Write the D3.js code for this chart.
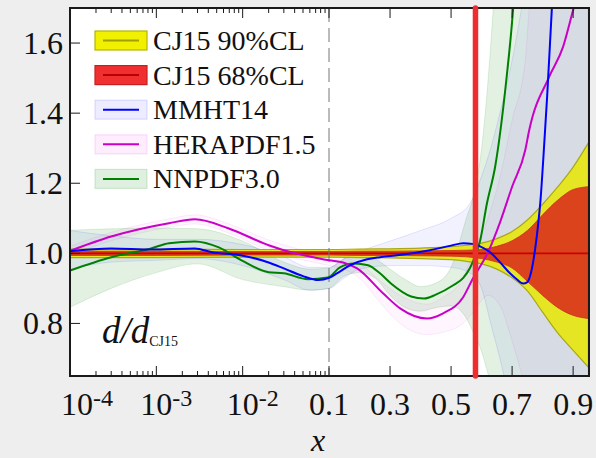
<!DOCTYPE html>
<html>
<head>
<meta charset="utf-8">
<script src="https://cdn.jsdelivr.net/npm/d3@7"></script>
<style>
  html, body { margin: 0; padding: 0; background: #eeeeee; }
  svg { display: block; }
  svg text { font-family: "Liberation Serif", "DejaVu Serif", serif; }
</style>
</head>
<body>
<div id="canvas"></div>
<script>
// -------------------------------------------- Data

// CJ15 bands (ratio to itself)
const cjX = [1e-4, 1e-3, 1e-2, 0.1, 0.2, 0.3, 0.4, 0.5, 0.55, 0.6, 0.65, 0.7, 0.75, 0.8, 0.85, 0.9, 0.95];
const cjMid = [1, 1, 1, 1, 1, 1, 1, 1, 1, 1, 1, 1, 1, 1, 1, 1, 1];
const cj90Hi = [1.012, 1.012, 1.011, 1.011, 1.012, 1.013, 1.015, 1.019, 1.023, 1.029, 1.042, 1.062, 1.095, 1.14, 1.19, 1.246, 1.315];
const cj90Lo = [0.988, 0.988, 0.989, 0.989, 0.988, 0.987, 0.985, 0.982, 0.977, 0.97, 0.955, 0.93, 0.893, 0.832, 0.772, 0.723, 0.675];
const cj68Hi = [1.006, 1.006, 1.005, 1.005, 1.006, 1.006, 1.007, 1.008, 1.009, 1.011, 1.02, 1.036, 1.065, 1.11, 1.152, 1.182, 1.19];
const cj68Lo = [0.994, 0.994, 0.995, 0.995, 0.994, 0.994, 0.993, 0.992, 0.99, 0.985, 0.975, 0.958, 0.92, 0.88, 0.845, 0.823, 0.814];

// MMHT14
const mmhtX = [1e-4, 3e-4, 8.7e-4, 2.8e-3, 4.4e-3, 0.0097, 0.02, 0.03, 0.05, 0.075, 0.1, 0.126, 0.169, 0.225, 0.267, 0.33, 0.431, 0.5, 0.54, 0.57, 0.595, 0.628, 0.66, 0.693, 0.715, 0.736, 0.75, 0.762, 0.775, 0.785, 0.793, 0.803, 0.815, 0.83, 0.84];
const mmhtMid = [1.006, 1.014, 1.011, 1.014, 1.003, 0.994, 0.974, 0.957, 0.935, 0.924, 0.93, 0.943, 0.966, 0.983, 0.989, 0.995, 1.009, 1.022, 1.029, 1.027, 1.02, 1.003, 0.975, 0.943, 0.926, 0.914, 0.918, 0.945, 1.009, 1.08, 1.151, 1.28, 1.45, 1.694, 1.85];
const mmhtBandX = [1e-4, 3e-4, 1e-3, 3e-3, 1e-2, 0.03, 0.06, 0.1, 0.15, 0.2, 0.3, 0.4, 0.5, 0.56, 0.6, 0.63, 0.66, 0.7, 0.735, 0.8, 0.95];
const mmhtHi = [1.065, 1.05, 1.04, 1.04, 1.025, 0.99, 0.96, 0.96, 0.985, 1.005, 1.035, 1.065, 1.1, 1.14, 1.22, 1.3, 1.4, 1.55, 1.72, 2.1, 2.8];
const mmhtLo = [0.955, 0.975, 0.98, 0.985, 0.965, 0.925, 0.895, 0.9, 0.93, 0.955, 0.965, 0.965, 0.96, 0.945, 0.9, 0.8, 0.7, 0.55, 0.45, 0.3, 0.2];

// HERAPDF1.5
const heraX = [1e-4, 3e-4, 1.4e-3, 2.8e-3, 6.9e-3, 0.02, 0.03, 0.0745, 0.1, 0.146, 0.192, 0.277, 0.333, 0.421, 0.474, 0.539, 0.572, 0.621, 0.661, 0.7, 0.743, 0.756, 0.821, 0.867, 0.9, 0.95];
const heraMid = [1.007, 1.048, 1.086, 1.097, 1.071, 1.023, 1.009, 0.986, 0.98, 0.974, 0.957, 0.886, 0.843, 0.814, 0.829, 0.874, 0.929, 1.003, 1.09, 1.19, 1.294, 1.351, 1.503, 1.589, 1.694, 1.85];
const heraHi = [1.02, 1.06, 1.098, 1.11, 1.084, 1.038, 1.024, 1.0, 0.995, 0.99, 0.975, 0.915, 0.88, 0.855, 0.875, 0.93, 1.0, 1.1, 1.22, 1.38, 1.55, 1.7, 2.1, 2.3, 2.5, 2.8];
const heraLo = [0.994, 1.036, 1.074, 1.084, 1.058, 1.008, 0.994, 0.972, 0.965, 0.955, 0.935, 0.85, 0.8, 0.768, 0.775, 0.8, 0.83, 0.88, 0.85, 0.75, 0.62, 0.58, 0.45, 0.4, 0.35, 0.3];

// NNPDF3.0
const nnX = [1e-4, 3e-4, 8.7e-4, 1.4e-3, 2.8e-3, 5.3e-3, 9.7e-3, 0.02, 0.03, 0.057, 0.097, 0.136, 0.182, 0.228, 0.267, 0.303, 0.369, 0.411, 0.45, 0.507, 0.54, 0.562, 0.578, 0.595, 0.617, 0.645, 0.68, 0.703, 0.715];
const nnMid = [0.951, 0.989, 1.014, 1.029, 1.034, 1.017, 0.98, 0.946, 0.943, 0.926, 0.931, 0.96, 0.971, 0.966, 0.943, 0.914, 0.877, 0.871, 0.882, 0.909, 0.93, 0.958, 0.99, 1.035, 1.14, 1.25, 1.486, 1.694, 1.85];
const nnBandX = [1e-4, 3e-4, 1e-3, 3e-3, 1e-2, 0.03, 0.06, 0.1, 0.15, 0.2, 0.25, 0.3, 0.35, 0.4, 0.45, 0.5, 0.55, 0.575, 0.6, 0.62, 0.64, 0.67, 0.7, 0.8, 0.95];
const nnHi = [1.066, 1.07, 1.072, 1.07, 1.035, 0.975, 0.955, 0.958, 0.985, 0.995, 0.985, 0.955, 0.925, 0.905, 0.915, 0.96, 1.1, 1.17, 1.3, 1.48, 1.72, 2.1, 2.5, 3.2, 4];
const nnLo = [0.846, 0.9, 0.945, 0.97, 0.925, 0.905, 0.895, 0.9, 0.935, 0.945, 0.93, 0.88, 0.845, 0.835, 0.845, 0.85, 0.815, 0.77, 0.72, 0.66, 0.6, 0.5, 0.4, 0.2, 0.1];

// CJ15 large-x cut
const xCut = [0.58];

// ticks
const yTicks = [0.8, 1.0, 1.2, 1.4, 1.6];
const logTicks = [1e-4, 1e-3, 1e-2];
const logTickExp = ["-4", "-3", "-2"];
const linTicks = [0.1, 0.3, 0.5, 0.7, 0.9];

// legend
const legendNames = ["CJ15 90%CL", "CJ15 68%CL", "MMHT14", "HERAPDF1.5", "NNPDF3.0"];

// -------------------------------------------- Dimensiones del lienzo
const width = 596;
const height = 458;
const plot = { left: 70, right: 589, top: 8, bottom: 376 };
const xBreak = 0.1;
const serif = "'Liberation Serif', 'DejaVu Serif', serif";

const svg = d3.select("#canvas").append("svg")
  .attr("width", width)
  .attr("height", height)
  .attr("font-family", serif);

svg.append("rect").attr("width", width).attr("height", height).attr("fill", "#eeeeee");
svg.append("rect")
  .attr("x", plot.left).attr("y", plot.top)
  .attr("width", plot.right - plot.left).attr("height", plot.bottom - plot.top)
  .attr("fill", "#ffffff");

// -------------------------------------------- Escalas (log + lineal)
const xLog = d3.scaleLog().domain([1e-4, xBreak]).range([plot.left, 329]);
const xLin = d3.scaleLinear().domain([xBreak, 0.952]).range([329, plot.right]);
const x = (v) => (v < xBreak ? xLog(v) : xLin(v));
const y = d3.scaleLinear().domain([0.65, 1.7]).range([plot.bottom, plot.top]);

svg.append("clipPath").attr("id", "clip")
  .append("rect")
  .attr("x", plot.left).attr("y", plot.top)
  .attr("width", plot.right - plot.left).attr("height", plot.bottom - plot.top);

const g = svg.append("g").attr("clip-path", "url(#clip)");

const zipBand = (xs, lo, hi) => xs.map((v, i) => ({ x: v, lo: lo[i], hi: hi[i] }));
const zipLine = (xs, ys) => xs.map((v, i) => ({ x: v, y: ys[i] }));

const area = d3.area()
  .x((d) => x(d.x))
  .y0((d) => y(d.lo))
  .y1((d) => y(d.hi))
  .curve(d3.curveMonotoneX);

const line = d3.line()
  .x((d) => x(d.x))
  .y((d) => y(d.y))
  .curve(d3.curveMonotoneX);

// ----- bandas PDF
const bands = [
  { data: zipBand(nnBandX, nnLo, nnHi), fill: "rgba(0,128,0,0.11)", stroke: "rgba(0,128,0,0.12)" },
  { data: zipBand(mmhtBandX, mmhtLo, mmhtHi), fill: "rgba(0,0,255,0.05)", stroke: "rgba(0,0,255,0.1)" },
  { data: zipBand(heraX, heraLo, heraHi), fill: "rgba(220,0,220,0.04)", stroke: "rgba(220,0,220,0.08)" }
];

bands.forEach((b) => {
  g.append("path")
    .datum(b.data)
    .attr("d", area)
    .attr("fill", b.fill)
    .attr("stroke", b.stroke)
    .attr("stroke-width", 1);
});

// ----- bandas CJ15
g.append("path")
  .datum(zipBand(cjX, cj90Lo, cj90Hi))
  .attr("d", area)
  .attr("fill", "#e6e614")
  .attr("fill-opacity", 0.92)
  .attr("stroke", "#a8a818")
  .attr("stroke-width", 1.2);

g.append("path")
  .datum(zipBand(cjX, cj68Lo, cj68Hi))
  .attr("d", area)
  .attr("fill", "#da3a1c")
  .attr("fill-opacity", 0.95)
  .attr("stroke", "#c83018")
  .attr("stroke-width", 0.8);

g.append("path")
  .datum(zipLine(cjX, cjMid))
  .attr("d", line)
  .attr("fill", "none")
  .attr("stroke", "#cc0000")
  .attr("stroke-width", 1.6);

// ----- linea x = 0.1
g.append("line")
  .attr("x1", x(xBreak)).attr("x2", x(xBreak))
  .attr("y1", plot.top).attr("y2", plot.bottom)
  .attr("stroke", "#777")
  .attr("stroke-width", 1)
  .attr("stroke-dasharray", "14,6");

// ----- curvas centrales
const curves = [
  { data: zipLine(nnX, nnMid), color: "#008000" },
  { data: zipLine(heraX, heraMid), color: "#c800c8" },
  { data: zipLine(mmhtX, mmhtMid), color: "#0000ff" }
];

curves.forEach((c) => {
  g.append("path")
    .datum(c.data)
    .attr("d", line)
    .attr("fill", "none")
    .attr("stroke", c.color)
    .attr("stroke-width", 2);
});

// -------------------------------------------- Ejes
const axes = svg.append("g").attr("stroke", "#1a1a1a").attr("stroke-width", 1);

// -- ticks log
const minorLog = xLog.ticks().filter((v) => logTicks.indexOf(v) < 0 && v < xBreak);
[plot.bottom, plot.top].forEach((edge) => {
  const dir = edge === plot.bottom ? -1 : 1;
  axes.selectAll(null).data(minorLog).enter().append("line")
    .attr("x1", (d) => x(d)).attr("x2", (d) => x(d))
    .attr("y1", edge).attr("y2", edge + dir * 5);
  axes.selectAll(null).data(logTicks.slice(1).concat(linTicks)).enter().append("line")
    .attr("x1", (d) => x(d)).attr("x2", (d) => x(d))
    .attr("y1", edge).attr("y2", edge + dir * 10);
});

// -- ticks y
axes.selectAll(null).data(yTicks).enter().append("line")
  .attr("x1", plot.left).attr("x2", plot.left + 10)
  .attr("y1", (d) => y(d)).attr("y2", (d) => y(d));

// -- marco
svg.append("rect")
  .attr("x", plot.left).attr("y", plot.top)
  .attr("width", plot.right - plot.left).attr("height", plot.bottom - plot.top)
  .attr("fill", "none")
  .attr("stroke", "#1a1a1a")
  .attr("stroke-width", 2);

// -- etiquetas y
svg.selectAll(null).data(yTicks).enter().append("text")
  .attr("x", plot.left - 7)
  .attr("y", (d) => y(d) + 11)
  .attr("text-anchor", "end")
  .attr("font-family", serif)
  .attr("font-size", 32)
  .attr("fill", "#111")
  .text((d) => d.toFixed(1));

// -- etiquetas x (log)
const logLabels = svg.selectAll(null).data(logTicks).enter().append("text")
  .attr("x", (d, i) => x(d) - 16 + (i === 0 ? 7 : 0))
  .attr("y", 415)
  .attr("font-family", serif)
  .attr("font-size", 32)
  .attr("fill", "#111");
logLabels.append("tspan").text("10");
logLabels.append("tspan")
  .attr("font-size", 24)
  .attr("dy", -9)
  .text((d, i) => logTickExp[i]);

// -- etiquetas x (lineal)
svg.selectAll(null).data(linTicks).enter().append("text")
  .attr("x", (d) => x(d))
  .attr("y", 415)
  .attr("text-anchor", "middle")
  .attr("font-family", serif)
  .attr("font-size", 32)
  .attr("fill", "#111")
  .text((d) => d.toFixed(1));

// -- titulo eje x
svg.append("text")
  .attr("x", 318)
  .attr("y", 451)
  .attr("text-anchor", "middle")
  .attr("font-family", serif)
  .attr("font-size", 32)
  .attr("font-style", "italic")
  .attr("fill", "#111")
  .text("x");

// -- d/d_CJ15
const ratio = svg.append("text")
  .attr("x", 102)
  .attr("y", 343)
  .attr("font-family", serif)
  .attr("fill", "#111");
ratio.append("tspan").attr("font-size", 37).attr("font-style", "italic").text("d/d");
ratio.append("tspan").attr("font-size", 14).attr("dy", 3).text("CJ15");

// -------------------------------------------- corte x = 0.58
svg.selectAll(null).data(xCut).enter().append("line")
  .attr("x1", (d) => x(d)).attr("x2", (d) => x(d))
  .attr("y1", plot.top).attr("y2", plot.bottom)
  .attr("stroke", "#ee2e2e")
  .attr("stroke-width", 5.5)
  .attr("stroke-linecap", "round");

// -------------------------------------------- Leyenda
const legendStyle = [
  { fill: "#f0f000", edge: "#b4b400", line: "#a0a000" },
  { fill: "#f03030", edge: "#c82020", line: "#b80000" },
  { fill: "rgba(0,0,255,0.07)", edge: "rgba(0,0,255,0.12)", line: "#0000ff" },
  { fill: "rgba(220,0,220,0.07)", edge: "rgba(220,0,220,0.12)", line: "#c800c8" },
  { fill: "rgba(0,128,0,0.12)", edge: "rgba(0,128,0,0.15)", line: "#008000" }
];

const legend = svg.append("g");
const rows = legend.selectAll("g").data(legendNames).enter().append("g")
  .attr("transform", (d, i) => `translate(95, ${40.5 + i * 34.6})`);

rows.append("rect")
  .attr("x", 0).attr("y", -9.5)
  .attr("width", 52).attr("height", 19)
  .attr("fill", (d, i) => legendStyle[i].fill)
  .attr("stroke", (d, i) => legendStyle[i].edge)
  .attr("stroke-width", 1.2);

rows.append("line")
  .attr("x1", 8).attr("x2", 44)
  .attr("y1", 0).attr("y2", 0)
  .attr("stroke", (d, i) => legendStyle[i].line)
  .attr("stroke-width", 2);

rows.append("text")
  .attr("x", 58)
  .attr("y", 9.5)
  .attr("font-family", serif)
  .attr("font-size", 28)
  .attr("fill", "#111")
  .text((d) => d);
</script>
</body>
</html>
